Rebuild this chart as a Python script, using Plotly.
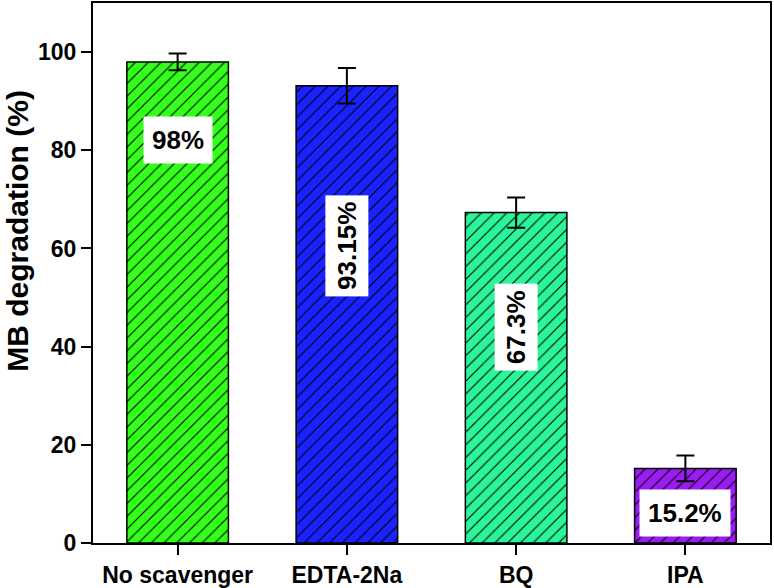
import plotly.graph_objects as go

categories = ["No scavenger", "EDTA-2Na", "BQ", "IPA"]
values = [98, 93.15, 67.3, 15.2]
errors = [1.7, 3.6, 3.1, 2.6]
labels = ["98%", "93.15%", "67.3%", "15.2%"]
label_y = [82, 60.5, 44, 6.2]
label_angle = [0, -90, -90, 0]
colors = ["#33ff1a", "#1a22ff", "#2bf59a", "#9b1cf2"]

font_family = "Liberation Sans, Arial, sans-serif"

fig = go.Figure()
for cat, val, err, col in zip(categories, values, errors, colors):
    fig.add_trace(go.Bar(
        x=[cat], y=[val],
        width=0.6,
        marker=dict(
            color=col,
            line=dict(color="black", width=1.5),
            pattern=dict(shape="/", fillmode="replace", bgcolor=col, fgcolor="black",
                         fgopacity=1, size=9, solidity=0.12),
        ),
        error_y=dict(type="data", array=[err], color="black", thickness=2, width=9),
        showlegend=False,
    ))

for cat, txt, yy, ang in zip(categories, labels, label_y, label_angle):
    fig.add_annotation(
        x=cat, y=yy, text=txt, showarrow=False,
        textangle=ang, bgcolor="white", borderpad=8 if ang == 0 else 6,
        font=dict(size=26, color="black", family=font_family, weight="bold"),
    )

# y title as annotation (sits above the plot centre in the original)
fig.add_annotation(
    xref="paper", yref="paper", x=-0.111, y=0.578,
    xanchor="center", yanchor="middle", textangle=-90, showarrow=False,
    text="MB degradation (%)",
    font=dict(size=30, color="black", family=font_family, weight="bold"),
)

fig.update_layout(
    width=774, height=588,
    margin=dict(l=93, r=4, t=3, b=45),
    paper_bgcolor="white", plot_bgcolor="white",
    font=dict(family=font_family, color="black"),
    barmode="overlay",
)
fig.update_xaxes(
    range=[-0.5, 3.5], showline=True, linecolor="black", linewidth=2, mirror=True,
    ticks="outside", ticklen=10, tickwidth=2, tickcolor="black",
    tickfont=dict(size=23, family=font_family, weight="bold"), showgrid=False,
    automargin=False,
)
fig.update_yaxes(
    range=[0, 110], tickvals=[0, 20, 40, 60, 80, 100],
    showline=True, linecolor="black", linewidth=2, mirror=True,
    ticks="outside", ticklen=10, tickwidth=2, tickcolor="black",
    tickfont=dict(size=23, family=font_family, weight="bold"), showgrid=False, zeroline=False,
    automargin=False,
)

fig.write_html("out.html", config={"displayModeBar": False},
               post_script="document.body.style.margin='0';")
